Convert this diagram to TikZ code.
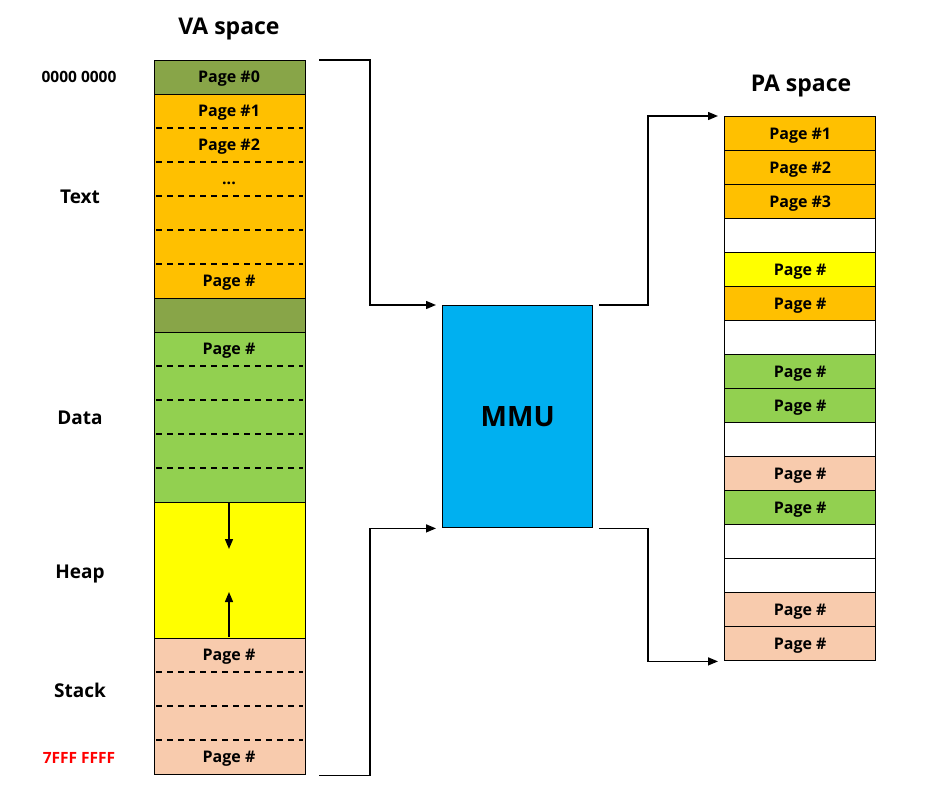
\documentclass[tikz,border=0pt]{standalone}
\usepackage{fontspec}
\setmainfont{Open Sans}[BoldFont={Open Sans Bold}]
\usetikzlibrary{arrows.meta}
\definecolor{olive}{HTML}{88A548}
\definecolor{orng}{HTML}{FFC000}
\definecolor{grn}{HTML}{92D050}
\definecolor{yel}{HTML}{FFFF00}
\definecolor{peach}{HTML}{F8CBAD}
\definecolor{mmu}{HTML}{00B0F0}
\definecolor{addrred}{HTML}{FF0000}
\tikzset{
  capc/.style={text height=#1, text depth=0pt},
  seg/.style={draw=black, line width=1.4pt, inner sep=0pt, minimum width=151pt, anchor=north west},
  cell/.style={draw=black, line width=1.4pt, inner sep=0pt, minimum width=151pt, minimum height=34pt, anchor=north west, font=\fontsize{16}{18}\selectfont\bfseries, capc=11.4pt},
  lbl/.style={font=\fontsize{16}{18}\selectfont\bfseries, capc=11.4pt, inner sep=0pt},
  side/.style={font=\fontsize{19}{21}\selectfont\bfseries, capc=13.6pt, inner sep=0pt},
  addr/.style={font=\fontsize{15.5}{18}\selectfont\bfseries, capc=11.1pt, inner sep=0pt},
  dsh/.style={dashed, dash pattern=on 6pt off 5pt, line width=1.2pt},
  conn/.style={line width=1.4pt, -{Triangle[length=10pt,width=8pt]}},
  title/.style={font=\fontsize{23}{26}\selectfont\bfseries, capc=16.4pt, inner sep=0pt},
}
\begin{document}
\begin{tikzpicture}[x=1pt,y=-1pt]
\useasboundingbox (0,0) rectangle (936,811);
% titles
\node[title] (vat) at (229,26) {VA space};
\node[title] (pat) at (801,83) {PA space};
% VA segments
\node[seg, fill=olive, minimum height=34pt] (p0) at (154,60) {};
\node[seg, fill=orng, minimum height=204pt] (txt) at (154,94) {};
\node[seg, fill=olive, minimum height=34pt] (gap) at (154,298) {};
\node[seg, fill=grn, minimum height=170pt] (dat) at (154,332) {};
\node[seg, fill=yel, minimum height=136pt] (heap) at (154,502) {};
\node[seg, fill=peach, minimum height=136pt] (stk) at (154,638) {};
% dashed separators
\foreach \yy in {128,162,196,230,264,366,400,434,468,672,706,740}
  \draw[dsh] (156,\yy) -- (303,\yy);
% VA labels
\node[lbl] (l0) at (229,77) {Page \#0};
\node[lbl] (l1) at (229,111) {Page \#1};
\node[lbl] (l2) at (229,145) {Page \#2};
\node[lbl] (l3) at (229,179) {...};
\node[lbl] (l4) at (229,281) {Page \#};
\node[lbl] (l5) at (229,349) {Page \#};
\node[lbl] (l6) at (229,655) {Page \#};
\node[lbl] (l7) at (229,757) {Page \#};
% heap arrows
\coordinate (ha) at (229,503);
\coordinate (hb) at (229,549);
\coordinate (hc) at (229,637);
\coordinate (hd) at (229,592);
\draw[line width=1.4pt, -{Triangle[length=10pt,width=8pt]}] (ha) -- (hb);
\draw[line width=1.4pt, -{Triangle[length=10pt,width=8pt]}] (hc) -- (hd);
% side labels
\node[addr] (a0) at (79,77) {0000 0000};
\node[addr, text=addrred] (a1) at (79,758) {7FFF FFFF};
\node[side] (st) at (80,197) {Text};
\node[side] (sd) at (80,418) {Data};
\node[side] (sh) at (80,572) {Heap};
\node[side] (ss) at (80,691) {Stack};
% MMU
\node[draw=black, line width=1.4pt, fill=mmu, minimum width=150pt, minimum height=222pt, anchor=north west, inner sep=0pt, font=\fontsize{28}{30}\selectfont\bfseries, capc=20pt] (mmu) at (442,305) {MMU};
% PA cells
\foreach \i/\c/\t in {0/orng/Page \#1,1/orng/Page \#2,2/orng/Page \#3,3/white/,4/yel/Page \#,5/orng/Page \#,6/white/,7/grn/Page \#,8/grn/Page \#,9/white/,10/peach/Page \#,11/grn/Page \#,12/white/,13/white/,14/peach/Page \#,15/peach/Page \#}
  \node[cell, fill=\c] (pa\i) at (724,116+34*\i) {\t};
% connectors
\coordinate (c1) at ([xshift=13pt]p0.north east);
\coordinate (c2) at ([xshift=13pt]stk.south east);
\coordinate (c3) at ([xshift=6pt]mmu.north east);
\coordinate (c4) at ([xshift=6pt]mmu.south east);
\draw[conn] (c1) -| ([xshift=-72pt]mmu.north west) -- ([xshift=-6pt]mmu.north west);
\draw[conn] (c2) -| ([xshift=-72pt]mmu.south west) -- ([xshift=-6pt]mmu.south west);
\draw[conn] (c3) -| ([xshift=-76pt]pa0.north west) -- ([xshift=-6pt]pa0.north west);
\draw[conn] (c4) -| ([xshift=-76pt]pa15.south west) -- ([xshift=-6pt]pa15.south west);
\end{tikzpicture}
\end{document}
